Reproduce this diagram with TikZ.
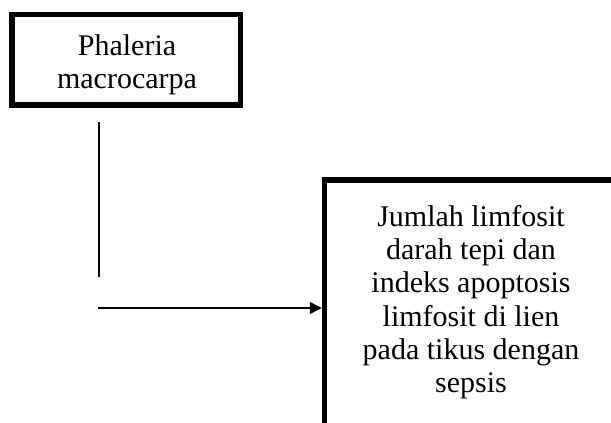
\documentclass[tikz,border=0pt]{standalone}
\usepackage{fontspec}
\setmainfont{Liberation Serif}
\usetikzlibrary{arrows.meta}
\begin{document}
\begin{tikzpicture}[x=1pt,y=1pt,
  framebox/.style={draw=black, line width=5.5pt, rectangle, inner sep=0pt},
  boxtext/.style={align=center, inner sep=0pt, font=\fontsize{30}{33.3}\selectfont},
  thinline/.style={line width=1.6pt},
  flowarrow/.style={line width=1.6pt, -{Triangle[length=12pt,width=12pt]}}]
  \useasboundingbox (0,0) rectangle (611,423);
  \clip (0,0) rectangle (611,423);
  % input box
  \node[framebox, minimum width=228.5pt, minimum height=90.5pt] (plant) at (126.25,363.25) {};
  \node[boxtext, anchor=north] (planttext) at (127,388.5) {Phaleria\\macrocarpa};
  % outcome box (runs past the page edge)
  \node[framebox, minimum width=340pt, minimum height=300pt] (outcome) at (494.5,93) {};
  \node[boxtext, anchor=north] (outcometext) at (471,218) {Jumlah limfosit\\darah tepi dan\\indeks apoptosis\\limfosit di lien\\pada tikus dengan\\sepsis};
  % connectors
  \coordinate (vtop) at (99,301);
  \coordinate (vbot) at (99,146);
  \coordinate (hstart) at (98,115);
  \draw[thinline] (vtop) -- (vbot);
  \draw[flowarrow] (hstart) -- (hstart -| outcome.west);
\end{tikzpicture}
\end{document}
